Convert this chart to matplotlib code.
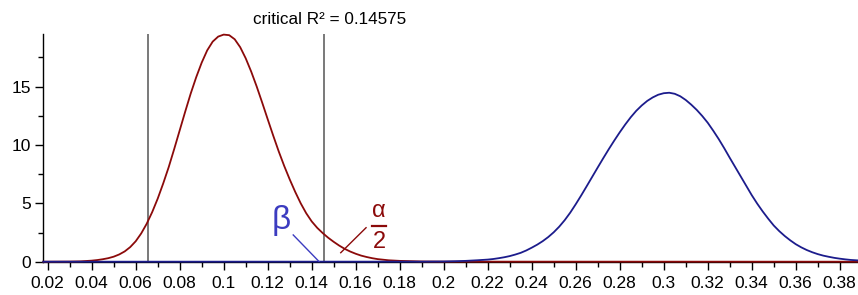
import numpy as np
import matplotlib.pyplot as plt
from matplotlib.ticker import MultipleLocator, FuncFormatter

plt.rcParams['font.family'] = ['Liberation Sans', 'DejaVu Sans']

# H0 distribution (red), every 0.0025
red_x = [0.018, 0.03, 0.035] + list(np.round(np.arange(0.04, 0.1676, 0.0025), 4)) + \
        [0.17, 0.175, 0.18, 0.19, 0.2, 0.39]
red_y = [0, 0.01, 0.03,
         0.09, 0.14, 0.21, 0.3, 0.43, 0.62, 0.88, 1.25, 1.75, 2.42,
         3.25, 4.25, 5.4, 6.7, 8.1, 9.65, 11.25, 12.85, 14.4, 15.8,
         17.05, 18.1, 18.85, 19.28, 19.45, 19.4, 19.05, 18.37, 17.42, 16.28,
         15.0, 13.62, 12.2, 10.8, 9.45, 8.2, 7.05, 5.98, 5.0, 4.15,
         3.45, 2.9, 2.45, 2.05, 1.7, 1.38, 1.1, 0.87, 0.68, 0.52,
         0.4, 0.3,
         0.22, 0.12, 0.07, 0.02, 0.005, 0]

# H1 distribution (blue)
blue_x = [0.018, 0.19, 0.2, 0.205, 0.21, 0.215] + list(np.round(np.arange(0.22, 0.3901, 0.0025), 4))
blue_y = [0, 0.005, 0.02, 0.04, 0.07, 0.12,
          0.18, 0.23, 0.3, 0.38, 0.48, 0.61, 0.76, 0.96, 1.2, 1.46,
          1.76, 2.11, 2.52, 3.0, 3.56, 4.2, 4.92, 5.68, 6.47, 7.27,
          8.07, 8.86, 9.63, 10.37, 11.08, 11.75, 12.37, 12.92, 13.38, 13.77,
          14.07, 14.3, 14.43, 14.47, 14.38, 14.17, 13.85, 13.45, 13.0, 12.48,
          11.9, 11.22, 10.5, 9.72, 8.9, 8.1, 7.3, 6.5, 5.7, 4.97,
          4.3, 3.68, 3.1, 2.62, 2.2, 1.83, 1.5, 1.23, 1.0, 0.81,
          0.65, 0.52, 0.42, 0.33, 0.26, 0.2, 0.15, 0.12, 0.09]

crit_lo = 0.0655
crit_hi = 0.14575

red = "#8b0a0a"
blue = "#1c1c8c"

fig = plt.figure(figsize=(8.58, 2.95), dpi=100)
ax = fig.add_axes([0.0501, 0.1129, 0.9499, 0.7718])

ax.plot(red_x, red_y, color=red, lw=1.3, clip_on=False, zorder=3)
ax.plot(blue_x, blue_y, color=blue, lw=1.3, clip_on=False, zorder=4)
ax.plot([crit_lo, crit_lo], [0, 19.5], color="#555555", lw=1.1, zorder=2)
ax.plot([crit_hi, crit_hi], [0, 19.5], color="#555555", lw=1.1, zorder=2)

ax.set_xlim(0.01786, 0.3883)
ax.set_ylim(0, 19.5)

for s in ["top", "right"]:
    ax.spines[s].set_visible(False)
ax.spines["left"].set_linewidth(1.0)
ax.spines["bottom"].set_linewidth(1.0)

ax.xaxis.set_major_locator(MultipleLocator(0.02))
ax.xaxis.set_minor_locator(MultipleLocator(0.01))
ax.yaxis.set_major_locator(MultipleLocator(5))
ax.yaxis.set_minor_locator(MultipleLocator(2.5))
ax.xaxis.set_major_formatter(FuncFormatter(lambda v, p: f"{round(v, 2):g}"))
ax.tick_params(axis="x", which="major", length=6, width=1, labelsize=12.5, pad=4)
ax.tick_params(axis="x", which="minor", length=3.5, width=1)
ax.tick_params(axis="y", which="major", length=5.5, width=1, labelsize=12.5, pad=3)
ax.tick_params(axis="y", which="minor", length=3.5, width=1)

fig.text(0.384, 0.92, "critical R² = 0.14575", ha="center", va="baseline", fontsize=12.3)

# beta label and pointer
ax.text(0.1260, 3.5, "β", color="#3c3cc0", fontsize=24, ha="center", va="center")
ax.plot([0.1316, 0.1434], [2.29, 0.0], color="#3c3cc0", lw=1.0, zorder=5)

# alpha/2 label and pointer
ax.text(0.1706, 4.35, "α", color=red, fontsize=17, ha="center", va="center")
ax.plot([0.1673, 0.1738], [3.08, 3.08], color=red, lw=1.6, zorder=5)
ax.text(0.1706, 1.7, "2", color=red, fontsize=17, ha="center", va="center")
ax.plot([0.1647, 0.1532], [2.91, 0.77], color=red, lw=1.0, zorder=5)

fig.savefig("out.png", dpi=100)
